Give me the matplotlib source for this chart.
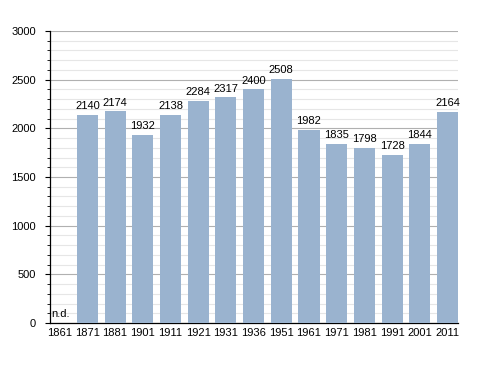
import matplotlib
matplotlib.use('Agg')
import matplotlib.pyplot as plt
import numpy as np

plt.rcParams['font.family'] = ['Liberation Sans', 'DejaVu Sans']

# census years and population (1861 has no data)
years = ['1861', '1871', '1881', '1901', '1911', '1921', '1931',
         '1936', '1951', '1961', '1971', '1981', '1991', '2001', '2011']
pop = [None, 2140, 2174, 1932, 2138, 2284, 2317, 2400, 2508,
       1982, 1835, 1798, 1728, 1844, 2164]

fig = plt.figure(figsize=(4.88, 3.73), dpi=100)
ax = fig.add_axes([50/488, 50/373, 408/488, 292/373])

x = np.arange(len(years))
vals = [0 if v is None else v for v in pop]
ax.bar(x, vals, width=0.76, color='#9ab3cf', zorder=3)

for i, v in enumerate(pop):
    if v is None:
        ax.text(i - 0.32, 40, 'n.d.', fontsize=8, ha='left', va='bottom', zorder=4)
    else:
        ax.text(i, v + 40, str(v), fontsize=8, ha='center', va='bottom', zorder=4)

ax.set_ylim(0, 3000)
ax.set_xlim(-0.35, len(years) - 1 + 0.38)
ax.set_yticks(np.arange(0, 3001, 500))
ax.set_yticks(np.arange(0, 3001, 100), minor=True)
ax.grid(axis='y', which='major', color='#b0b0b0', linewidth=0.8, zorder=1)
ax.grid(axis='y', which='minor', color='#e6e6e6', linewidth=0.8, zorder=0)
ax.set_xticks(x)
ax.set_xticklabels(years)
ax.tick_params(axis='x', length=0, labelsize=8, pad=3.5)
ax.tick_params(axis='y', which='major', length=3.6, labelsize=8, pad=6.5)
ax.tick_params(axis='y', which='minor', length=2.2)
for s in ['top', 'right']:
    ax.spines[s].set_visible(False)
ax.spines['left'].set_linewidth(0.9)
ax.spines['bottom'].set_linewidth(0.9)

fig.savefig('out.png', dpi=100)
